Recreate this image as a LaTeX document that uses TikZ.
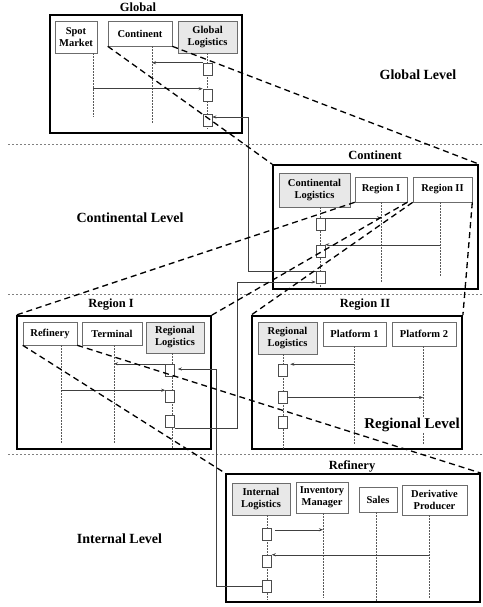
\documentclass[tikz,border=0pt]{standalone}
\usepackage{fontspec}
\setmainfont{Liberation Serif}
\usetikzlibrary{arrows.meta}

\tikzset{
  part/.style={draw=gray!85!black, line width=0.6pt, inner sep=0pt, align=center,
    font=\fontsize{10.5}{12}\selectfont\bfseries},
  logi/.style={part, fill=gray!18},
  act/.style={draw=black!70, fill=white, line width=0.5pt, minimum width=9pt,
    minimum height=12pt, inner sep=0pt},
  levelbox/.style={draw=black, line width=1.8pt, inner sep=0pt},
  boxtitle/.style={font=\fontsize{12.5}{14}\selectfont\bfseries, inner sep=0pt},
  life/.style={draw=black!65, line width=0.5pt, dash pattern=on 1.5pt off 1.5pt},
  msg/.style={->, draw=black!75, line width=0.5pt},
  zoomline/.style={draw=black, line width=1.3pt, dash pattern=on 6pt off 4pt},
  levelsep/.style={draw=gray, line width=0.6pt, dash pattern=on 2pt off 2pt}
}

\begin{document}
\begin{tikzpicture}[x=1pt, y={(0pt,-1pt)}, >={Stealth[length=4pt,width=3pt]}]
		\useasboundingbox (0,0) rectangle (482,607);

		% level separators
		\draw[levelsep] (8,144) -- (482,144);
		\draw[levelsep] (8,294) -- (482,294);
		\draw[levelsep] (8,454) -- (482,454);

		% global
		\node[levelbox, minimum width=192pt, minimum height=118pt] (G) at (146,74) {};
		\node[boxtitle] (Gt) at (138,7) {Global};
		\node[part, minimum width=42pt, minimum height=32pt] (spot) at (76,37) {Spot\\Market};
		\node[part, minimum width=64pt, minimum height=25pt] (cont) at (140,33.5) {Continent};
		\node[logi, minimum width=59pt, minimum height=32pt] (glog) at (207.5,37) {Global\\Logistics};
		\coordinate (spotL) at (93,117);
		\coordinate (contL) at (152,123);
		\coordinate (glogL) at (207.5,129);
		\draw[life] (spot.south -| spotL) -- (spotL);
		\draw[life] (cont.south -| contL) -- (contL);
		\draw[life] (glog.south -| glogL) -- (glogL);
		\begin{scope}[every node/.style={act}]
			\node (g1) at (207.5,69) {};
			\node (g2) at (207.5,95) {};
			\node (g3) at (207.5,120.5) {};
		\end{scope}

		% continent
		\node[levelbox, minimum width=205pt, minimum height=124pt] (C) at (375.5,227) {};
		\node[boxtitle] (Ct) at (375,155) {Continent};
		\node[logi, minimum width=71pt, minimum height=34pt] (clog) at (314.5,190) {Continental\\Logistics};
		\node[part, minimum width=52pt, minimum height=25pt] (reg1) at (381,189.5) {Region I};
		\node[part, minimum width=59pt, minimum height=25pt] (reg2) at (442.5,189.5) {Region II};
		\coordinate (clogL) at (320.5,287);
		\coordinate (reg1L) at (381,283);
		\coordinate (reg2L) at (440,277);
		\draw[life] (clog.south -| clogL) -- (clogL);
		\draw[life] (reg1.south -| reg1L) -- (reg1L);
		\draw[life] (reg2.south -| reg2L) -- (reg2L);
		\begin{scope}[every node/.style={act}]
			\node (c1) at (320.5,224) {};
			\node (c2) at (320.5,251) {};
			\node (c3) at (320.5,277.5) {};
		\end{scope}

		% region I
		\node[levelbox, minimum width=194pt, minimum height=133pt] (R1) at (114,382.5) {};
		\node[boxtitle] (R1t) at (111,305) {Region I};
		\node[part, minimum width=54pt, minimum height=23pt] (refy) at (50,333.5) {Refinery};
		\node[part, minimum width=60pt, minimum height=23pt] (term) at (112,333.5) {Terminal};
		\node[logi, minimum width=58pt, minimum height=31pt] (rlog1) at (175,337.5) {Regional\\Logistics};
		\coordinate (refyL) at (61,444);
		\coordinate (termL) at (114,444);
		\coordinate (rlog1L) at (172,449);
		\draw[life] (refy.south -| refyL) -- (refyL);
		\draw[life] (term.south -| termL) -- (termL);
		\draw[life] (rlog1.south -| rlog1L) -- (rlog1L);
		\begin{scope}[every node/.style={act}]
			\node (r1) at (170,370) {};
			\node (r2) at (170,396.5) {};
			\node (r3) at (170,421.5) {};
		\end{scope}

		% region II
		\node[levelbox, minimum width=210pt, minimum height=133pt] (R2) at (357,382.5) {};
		\node[boxtitle] (R2t) at (365,305) {Region II};
		\node[logi, minimum width=59pt, minimum height=32pt] (rlog2) at (287.5,338) {Regional\\Logistics};
		\node[part, minimum width=63pt, minimum height=24pt] (plat1) at (354.5,334) {Platform 1};
		\node[part, minimum width=64pt, minimum height=24pt] (plat2) at (424,334) {Platform 2};
		\coordinate (rlog2L) at (283,449);
		\coordinate (plat1L) at (354,444);
		\coordinate (plat2L) at (423,444);
		\draw[life] (rlog2.south -| rlog2L) -- (rlog2L);
		\draw[life] (plat1.south -| plat1L) -- (plat1L);
		\draw[life] (plat2.south -| plat2L) -- (plat2L);
		\begin{scope}[every node/.style={act}]
			\node (q1) at (282.5,370.5) {};
			\node (q2) at (282.5,397.5) {};
			\node (q3) at (282.5,422.5) {};
		\end{scope}

		% refinery
		\node[levelbox, minimum width=254pt, minimum height=128pt] (RF) at (353,538) {};
		\node[boxtitle] (RFt) at (352,466) {Refinery};
		\node[logi, minimum width=58pt, minimum height=32pt] (ilog) at (261,499) {Internal\\Logistics};
		\node[part, minimum width=52pt, minimum height=31pt] (inv) at (322,497.5) {Inventory\\Manager};
		\node[part, minimum width=38pt, minimum height=25pt] (sales) at (378,499.5) {Sales};
		\node[part, minimum width=65pt, minimum height=30pt] (deriv) at (434.5,500) {Derivative\\Producer};
		\coordinate (ilogL) at (267,600);
		\coordinate (invL) at (323,598);
		\coordinate (salesL) at (376,602);
		\coordinate (derivL) at (429,598);
		\draw[life] (ilog.south -| ilogL) -- (ilogL);
		\draw[life] (inv.south -| invL) -- (invL);
		\draw[life] (sales.south -| salesL) -- (salesL);
		\draw[life] (deriv.south -| derivL) -- (derivL);
		\begin{scope}[every node/.style={act}]
			\node (i1) at (267,534) {};
			\node (i2) at (267,561) {};
			\node (i3) at (267,586) {};
		\end{scope}

		% messages
		\coordinate (k1) at (248,117);
		\coordinate (k2) at (237,282);
		\coordinate (k3) at (216,369);
		\draw[msg] (g1.north west) -- (g1.north west -| contL);
		\draw[msg] (spotL |- g2.north west) -- (g2.north west);
		\draw[msg] (c3.north west) -| (k1) -- (k1 -| g3.east);
		\draw[msg] (c1.north east) -- (c1.north east -| reg1L);
		\draw[msg] (reg2L |- c2.north east) -- (c2.north east);
		\draw[msg] (r3.south east) -| (k2) -- (k2 -| c3.west);
		\draw[msg] (r1.north west) -- (r1.north west -| termL);
		\draw[msg] (refyL |- r2.north west) -- (r2.north west);
		\draw[msg] (i3.west) -| (k3) -- ([xshift=3pt]k3 -| r1.east);
		\draw[msg] (plat1L |- q1.north east) -- ([xshift=3pt]q1.north east);
		\draw[msg] (q2.east) -- (q2.east -| plat2L);
		\draw[msg] ([xshift=3pt,yshift=-2pt]i1.north east) -- ([yshift=-2pt]i1.north east -| invL);
		\draw[msg] (derivL |- i2.north east) -- (i2.north east);

		% level names
		\begin{scope}[every node/.style={font=\fontsize{14}{16}\selectfont\bfseries, fill=white, inner sep=1pt}]
			\node (glev) at (418,75) {Global Level};
			\node (clev) at (130,218) {Continental Level};
			\node[font=\fontsize{15}{17}\selectfont\bfseries] (rlev) at (412,425) {Regional Level};
			\node (ilev) at (119.5,539) {Internal Level};
		\end{scope}

		% zoom lines
		\draw[zoomline] (cont.south west) -- (C.north west);
		\draw[zoomline] (cont.south east) -- (C.north east);
		\draw[zoomline] (reg1.south west) -- (R1.north west);
		\draw[zoomline] (reg1.south east) -- (R1.north east);
		\draw[zoomline] (reg2.south west) -- (R2.north west);
		\draw[zoomline] (reg2.south east) -- (R2.north east);
		\draw[zoomline] (refy.south west) -- (RF.north west);
		\draw[zoomline] (refy.south east) -- (RF.north east);
\end{tikzpicture}
\end{document}
